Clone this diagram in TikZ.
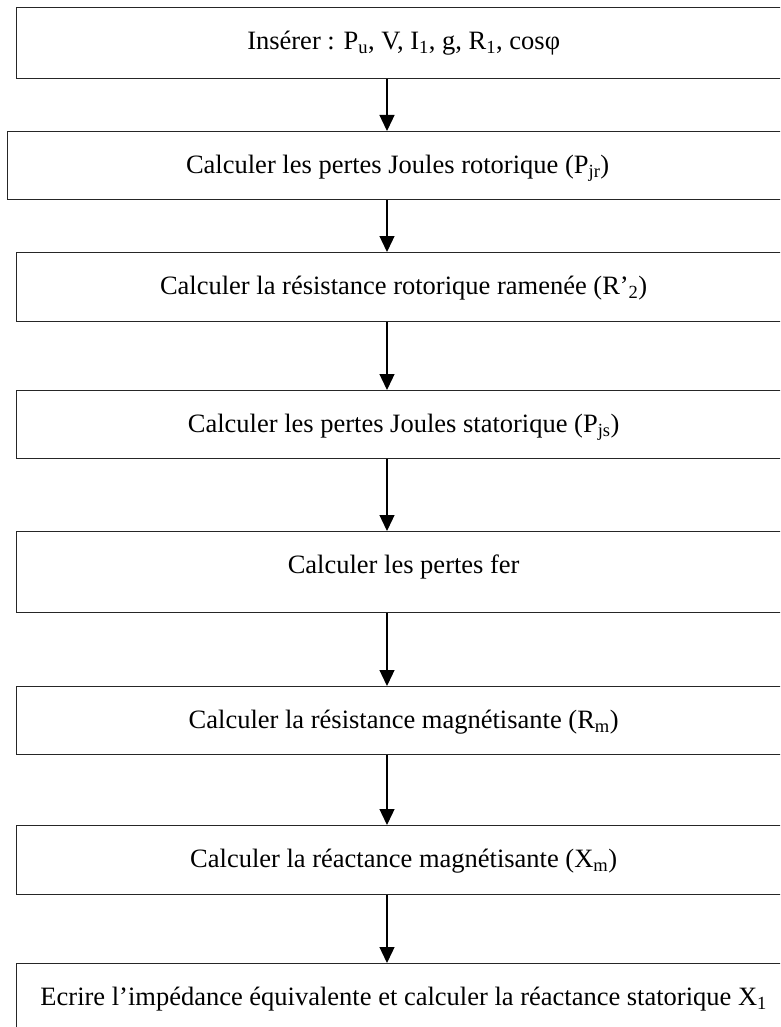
\documentclass[tikz,border=0pt]{standalone}
\usepackage{fontspec}
\setmainfont{Liberation Serif}
\usetikzlibrary{arrows.meta}
\begin{document}
\begin{tikzpicture}[x=1pt,y=-1pt,
  stepbox/.style={draw=black!85, line width=1.3pt, rectangle, anchor=north west,
    inner xsep=0pt, inner ysep=0pt, minimum width=774pt,
    text height=42pt, text depth=27pt, font=\fontsize{26.5}{32}\selectfont},
  flow/.style={-{Triangle[width=15pt,length=16pt]}, line width=1.3pt, black}]
\useasboundingbox (0,0) rectangle (780,1027);
\clip (0,0) rectangle (780,1027);

% column of the connecting arrows
\coordinate (ax) at (387,0);

\node[stepbox, text depth=29pt] (b1) at (16,7)
  {Insérer : P\textsubscript{u}, V, I\textsubscript{1}, g, R\textsubscript{1}, cosφ};
\node[stepbox, text depth=26pt, minimum width=780pt] (b2) at (7,131)
  {Calculer les pertes Joules rotorique (P\textsubscript{jr})};
\node[stepbox, text depth=27pt] (b3) at (16,252)
  {Calculer la résistance rotorique ramenée (R’\textsubscript{2})};
\node[stepbox, text depth=26pt] (b4) at (16,390)
  {Calculer les pertes Joules statorique (P\textsubscript{js})};
\node[stepbox, text depth=39pt] (b5) at (16,531)
  {Calculer les pertes fer};
\node[stepbox, text depth=26pt] (b6) at (16,686)
  {Calculer la résistance magnétisante (R\textsubscript{m})};
\node[stepbox, text depth=27pt] (b7) at (16,825)
  {Calculer la réactance magnétisante (X\textsubscript{m})};
\node[stepbox, text depth=40pt] (b8) at (16,963)
  {Ecrire l’impédance équivalente et calculer la réactance statorique X\textsubscript{1}};

\foreach \a/\b in {b1/b2, b2/b3, b3/b4, b4/b5, b5/b6, b6/b7, b7/b8}
  \draw[flow] (\a.south -| ax) -- (\b.north -| ax);
\end{tikzpicture}
\end{document}
